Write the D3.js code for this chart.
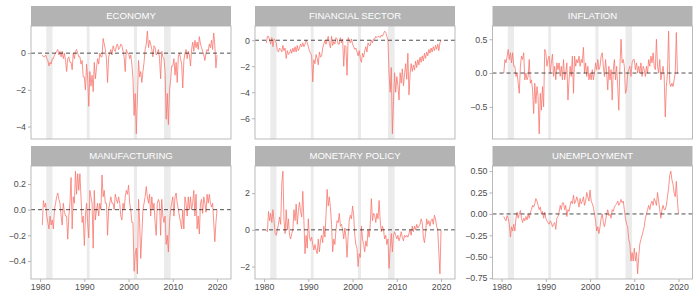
<!DOCTYPE html>
<html>
<head>
<meta charset="utf-8">
<script src="https://cdn.jsdelivr.net/npm/d3@7"></script>
<style>
  body { margin: 0; background: #fff; }
  svg { font-family: "Liberation Sans", Arial, sans-serif; }
</style>
</head>
<body>
<svg id="chart" width="700" height="300"></svg>
<script>
// facet titles, in wrap order
const titles = ["ECONOMY", "FINANCIAL SECTOR", "INFLATION", "MANUFACTURING", "MONETARY POLICY", "UNEMPLOYMENT"];

// quarterly readings, first one at 1980.5, last one at 2020.0
const economy = [
  -0.1, -0.2,
  -0.2, -0.1, -0.3, -0.4,   -0.7, -0.5, -0.6, -0.3,   -0.3, -0.1, 0.0, 0.1,   0.2, -0.1, 0.1, -0.2,
  0.1, -0.3, 0.0, -0.4,     -1.0, -0.3, -0.2, -0.5,   -0.5, -0.9, 0.0, -0.3,  0.1, 0.2, 0.0, -0.2,
  -0.2, -0.6, -0.4, -1.3,   -1.3, -2.0, -0.6, -1.3,   -2.9, -1.0, -1.8, -1.2, -2.1, -0.5, -1.4, -0.8,
  -0.3, -0.6, 0.0, -0.2,    -0.2, 0.8, 0.5, 0.2,      -0.3, -1.6, -0.2, 0.0,  0.2, -0.1, 0.4, 0.2,
  0.1, 0.4, 0.5, 0.2,       0.3, 0.5, 0.4, 0.1,       -0.2, -1.0, 0.2, 0.0,   0.0, -0.3, -0.1, -0.6,
  -1.4, -3.4, -2.2, -4.4,   -2.5, -0.4, -1.3, -1.0,   -1.6, -1.0, -0.5, 0.2,  0.5, 1.2, 0.3, 0.7,
  0.5, 0.2, -0.2, 0.4,      0.3, -0.1, 0.0, 0.2,      -0.3, -1.4, 0.1, -0.2,  -0.3, -1.0, -3.6, -2.2,
  -3.9, -2.0, -1.5, -0.7,   -0.7, -0.3, -1.2, -0.5,   -1.6, -0.2, 0.0, -0.3,  -0.6, -1.9, -0.4, 0.0,
  0.2, -0.3, 0.1, -0.1,     -0.7, 0.2, 0.6, 0.1,      0.7, 0.3, 0.6, 0.2,     0.9, 0.5, 0.3, 0.1,
  -0.1, -0.4, 0.0, 0.2,     0.1, 0.5, 0.3, 0.7,       0.2, 1.1, 0.4, -0.8,
  -0.1
];
const financial = [
  -0.2, 0.3,
  0.3, 0.0, -0.3, 0.2,      -0.5, 0.1, 0.0, -0.2,     -0.8, -0.9, -0.6, -0.7, -0.9, -0.4, -0.8, -0.6,
  -1.4, -0.8, -1.1, -1.0,   -0.7, -1.0, -0.6, -0.9,   -0.5, -0.9, -0.4, -0.8, -0.6, -0.3, -0.5, -0.2,
  -0.5, -0.3, 0.0, -0.2,    -0.5, -0.8, -1.0, -1.2,   -3.2, -1.5, -1.8, -1.1, -1.4, -1.9, -0.9, -1.3,
  -1.2, -0.6, -0.3, 0.0,    -0.3, 0.0, 0.3, -0.2,     -0.6, 0.3, -0.4, -0.1,  -0.3, 0.2, 0.1, -0.3,
  -0.3, 0.2, -0.2, 0.1,     -2.0, -0.4, -0.5, -2.7,   0.2, 0.0, -0.2, 0.1,    -0.3, -0.5, -0.7, -0.6,
  -0.9, -1.2, -0.8, -1.4,   -1.7, -1.0, -1.3, -0.8,   -0.5, -0.9, -0.2, -0.4, -0.4, 0.0, -0.2, 0.1,
  0.1, 0.3, 0.2, 0.3,       0.3, 0.2, 0.4, 0.3,       0.5, 0.7, 0.6, 0.3,     0.0, -2.6, -4.0, -2.1,
  -7.2, -4.7, -2.5, -4.0,   -2.8, -3.5, -4.6, -2.5,   -3.3, -2.2, -3.5, -2.6, -1.8, -3.0, -1.0, -4.2,
  -2.6, -1.8, -2.4, -1.9,   -2.3, -1.6, -2.1, -1.5,   -1.9, -1.3, -1.7, -1.2, -1.6, -1.0, -1.4, -0.9,
  -1.2, -0.7, -1.0, -0.6,   -0.9, -0.5, -0.8, -0.4,   -0.7, -0.3, -0.8, -0.2,
  0.0
];
const inflation = [
  0.0, 0.2,
  0.15, 0.25, 0.35, 0.2,    0.3, 0.15, 0.3, 0.1,      0.1, -0.05, 0.0, -0.15, -0.3, 0.1, 0.25, 0.2,
  0.3, -0.1, 0.0, -0.1,     -0.05, 0.2, -0.15, -0.1,  -0.25, -0.6, -0.15, -0.45, -0.2, -0.35, -0.9, -0.3,
  -0.55, -0.2, -0.5, 0.35,  0.3, 0.1, 0.2, 0.25,      0.0, 0.15, 0.28, -0.05, 0.1, -0.1, 0.15, 0.05,
  0.15, -0.05, 0.1, -0.1,   0.2, -0.1, 0.0, 0.15,     -0.4, -0.1, 0.1, -0.05, 0.25, -0.3, 0.25, 0.1,
  0.2, 0.15, 0.25, 0.1,     0.2, 0.15, 0.38, 0.0,     0.15, -0.05, 0.1, -0.1, 0.0, -0.1, 0.05, -0.1,
  0.0, 0.15, 0.05, 0.2,     0.05, 0.1, 0.25, 0.3,     0.1, -0.05, 0.2, 0.0,   -0.25, 0.1, -0.1, 0.05,
  -0.4, 0.05, 0.2, -0.1,    0.1, -0.2, -0.55, 0.1,    0.5, 0.15, 0.2, 0.1,    -0.3, -0.25, 0.0, 0.05,
  0.1, -0.05, 0.15, 0.2,    0.2, 0.05, 0.15, 0.0,     0.1, 0.0, 0.15, -0.05,  0.1, 0.05, -0.05, 0.1,
  0.0, 0.2, 0.1, 0.25,      0.15, 0.3, 0.1, 0.05,     0.5, 0.1, 0.0, 0.2,     -0.1, 0.0, 0.1, -0.05,
  -0.65, -0.2, 0.0, 0.62,   -0.15, -0.2, -0.15, -0.2, -0.1, 0.0, 0.6, 0.0,
  0.0
];
const manufacturing = [
  -0.12, 0.07,
  0.02, 0.05, -0.05, -0.1,  -0.15, -0.05, -0.12, -0.08, -0.15, 0.0, 0.05, 0.1, 0.13, 0.08, 0.05, -0.05,
  -0.12, 0.05, -0.02, -0.05, -0.05, -0.23, -0.05, 0.05, 0.25, -0.15, 0.1, 0.05, 0.3, 0.12, 0.28, 0.15,
  0.28, 0.1, -0.1, -0.05,   -0.28, -0.05, 0.05, -0.1, -0.22, 0.15, 0.1, 0.05, -0.3, 0.15, -0.08, 0.0,
  0.05, -0.05, 0.05, 0.0,   0.27, 0.1, 0.15, 0.05,    0.05, -0.2, 0.0, 0.05,  0.1, 0.05, 0.05, 0.0,
  0.12, 0.08, 0.05, 0.1,    0.05, -0.05, -0.08, 0.05, 0.0, 0.1, 0.15, 0.12,   0.19, 0.05, 0.0, -0.1,
  -0.1, -0.48, -0.35, -0.3, -0.5, 0.08, -0.1, -0.38,  -0.2, 0.0, 0.05, 0.1,   0.18, 0.1, 0.05, 0.12,
  -0.05, 0.1, 0.0, 0.05,    -0.1, -0.2, 0.05, 0.08,   0.05, -0.2, 0.08, -0.05, -0.1, -0.05, -0.27, -0.2,
  -0.33, -0.1, 0.0, 0.05,   0.1, -0.05, 0.1, 0.13,    0.05, 0.0, -0.05, -0.1, -0.15, 0.0, -0.15, 0.1,
  0.05, -0.05, 0.1, 0.0,    0.1, 0.0, 0.05, 0.15,     -0.05, 0.12, -0.15, -0.05, -0.19, 0.05, 0.08, -0.03,
  0.1, 0.05, -0.02, 0.12,   0.05, 0.12, 0.05, 0.02,   0.05, -0.1, -0.25, -0.1,
  0.0
];
const monetary = [
  0.0, -0.1,
  1.0, 0.5, 0.9, 0.4,       1.1, 0.5, -0.2, -0.3,     0.0, 0.3, 0.7, 0.3,     2.5, 3.2, 0.5, -0.2,
  1.1, 0.0, 0.6, -0.3,      -0.5, -0.2, 0.0, 1.1,     0.5, 1.4, 0.3, 1.0,     1.5, 1.0, 0.7, 2.1,
  0.5, -1.3, -0.3, -1.0,    0.6, -0.4, -0.6, -0.4,    -0.8, -1.1, -0.8, -1.1, -1.3, -0.5, -1.2, -0.6,
  -0.3, -0.7, 0.2, -0.4,    0.8, 2.2, 1.3, 1.8,       1.2, 0.3, -1.2, -0.5,   -0.8, 0.0, 0.5, 0.4,
  0.9, 0.2, 0.3, 0.0,       -0.5, 0.1, -0.4, -1.5,    -0.3, 0.5, 0.8, 0.6,    1.3, 0.8, -0.3, -0.8,
  -1.0, -2.0, -1.3, -1.5,   0.2, -0.5, -0.8, -1.2,    -0.6, -0.9, 0.0, -0.4,  0.3, 1.7, 0.5, 0.9,
  0.8, 0.4, 0.9, 0.6,       1.6, 0.5, -0.1, 0.2,      0.0, -0.5, -0.3, -0.8,  -0.5, -2.1, -1.0, -0.2,
  -1.2, -0.3, -0.1, -0.3,   -0.5, -0.3, -0.6, -0.4,   -0.1, -0.4, -0.6, -0.3, -0.4, -0.3, -0.4, -0.2,
  0.0, -0.3, 0.2, -0.1,     0.2, 0.0, 0.3, 0.1,       0.2, 0.3, 0.6, 0.4,     -0.4, -0.7, -0.2, 0.6,
  0.3, 0.5, 0.2, 0.5,       0.6, 0.3, 0.8, 0.6,       0.2, 0.0, -1.2, -2.4,
  0.0
];
const unemployment = [
  -0.03, -0.06,
  -0.08, -0.02, -0.05, -0.12, -0.27, -0.15, -0.2, -0.12, -0.2, -0.05, 0.02, -0.05, 0.0, 0.04, -0.05, -0.1,
  -0.05, -0.08, -0.03, -0.07, 0.0, -0.05, 0.02, 0.05,  0.1, 0.08, 0.12, 0.18,   0.15, 0.1, 0.05, 0.08,
  0.0, 0.03, -0.05, 0.02,   -0.05, -0.08, -0.1, -0.12, -0.08, -0.1, -0.15, -0.12, -0.1, -0.18, -0.05, -0.03,
  0.02, 0.1, 0.05, 0.13,    0.13, 0.05, 0.1, -0.03,   0.05, 0.03, 0.1, 0.15,  0.12, 0.22, 0.12, 0.15,
  0.2, 0.15, 0.08, 0.18,    0.12, 0.15, 0.2, 0.1,     0.15, 0.25, 0.2, 0.15,  0.28, 0.15, 0.12, 0.08,
  0.0, -0.08, -0.2, -0.15,  -0.23, -0.15, -0.05, 0.0, -0.1, -0.15, -0.08, 0.0, 0.05, -0.02, 0.0, -0.05,
  0.05, 0.03, 0.08, 0.1,    0.12, 0.15, 0.1, 0.13,    0.17, 0.13, 0.15, 0.05, -0.05, -0.12, -0.15, -0.3,
  -0.35, -0.55, -0.45, -0.55, -0.4, -0.55, -0.45, -0.7, -0.5, -0.35, -0.3, -0.25, -0.2, -0.15, -0.05, 0.0,
  0.05, 0.1, 0.05, 0.12,    0.15, 0.1, 0.18, 0.15,    0.1, 0.25, 0.15, 0.05,  -0.05, 0.05, 0.1, 0.05,
  0.05, 0.1, 0.2, 0.3,      0.45, 0.5, 0.4, 0.35,     0.25, 0.2, 0.38, 0.15,
  0.0
];

const series = [economy, financial, inflation, manufacturing, monetary, unemployment];
const firstDate = 1980.5;
const stepYears = 0.25;

const yTicks = [
  [-4, -2, 0],
  [-6, -4, -2, 0],
  [-0.5, 0, 0.5],
  [-0.4, -0.2, 0, 0.2],
  [-2, 0, 2],
  [-0.75, -0.5, -0.25, 0, 0.25, 0.5]
];
const yDecimals = [0, 0, 1, 1, 0, 2];
const xTicks = [1980, 1990, 2000, 2010, 2020];
const xLimits = [1980, 2021.1];

// NBER recessions (start, end)
const recessions = [[1981.4, 1982.8], [1990.55, 1991.2], [2001.2, 2001.9], [2008.0, 2009.5]];

// layout
const colLeft = [31, 255, 492.5];
const rowTop = [6, 146];
const panelW = 200, stripH = 20, plotH = 113;
const lineColor = "#F8766D";
const grey70 = "#b3b3b3";

const svg = d3.select("#chart");

const xSpan = xLimits[1] - xLimits[0];
const x = d3.scaleLinear()
  .domain([xLimits[0] - 0.05 * xSpan, xLimits[1] + 0.05 * xSpan])
  .range([0, panelW]);

titles.forEach((title, i) => {
  const col = i % 3, row = Math.floor(i / 3);
  const values = series[i];
  const data = values.map((v, k) => ({ t: firstDate + k * stepYears, v }));

  const [lo, hi] = d3.extent(values);
  const pad = (hi - lo) * 0.05;
  const y = d3.scaleLinear().domain([lo - pad, hi + pad]).range([plotH, 0]);

  const g = svg.append("g").attr("transform", `translate(${colLeft[col]},${rowTop[row]})`);

  // strip
  g.append("rect")
    .attr("width", panelW).attr("height", stripH)
    .attr("fill", grey70);
  g.append("text")
    .attr("x", panelW / 2).attr("y", stripH / 2)
    .attr("dy", "0.36em")
    .attr("text-anchor", "middle")
    .attr("fill", "#fff")
    .style("font-size", "9.6px")
    .text(title);

  const p = g.append("g").attr("transform", `translate(0,${stripH})`);

  p.selectAll(".rec")
    .data(recessions)
    .enter().append("rect")
    .attr("class", "rec")
    .attr("x", d => x(d[0]))
    .attr("width", d => x(d[1]) - x(d[0]))
    .attr("y", 0).attr("height", plotH)
    .attr("fill", "#ebebeb");

  const line = d3.line().x(d => x(d.t)).y(d => y(d.v));
  p.append("path")
    .datum(data)
    .attr("d", line)
    .attr("fill", "none")
    .attr("stroke", lineColor)
    .attr("stroke-width", 0.8)
    .attr("stroke-linejoin", "round");

  p.append("line")
    .attr("x1", 0).attr("x2", panelW)
    .attr("y1", y(0)).attr("y2", y(0))
    .attr("stroke", "#222")
    .attr("stroke-width", 0.8)
    .attr("stroke-dasharray", "4,3");

  p.append("rect")
    .attr("width", panelW).attr("height", plotH)
    .attr("fill", "none")
    .attr("stroke", grey70)
    .attr("stroke-width", 0.9);

  const fmt = d3.format(`.${yDecimals[i]}f`);
  const yAxis = p.append("g")
    .call(d3.axisLeft(y).tickValues(yTicks[i]).tickSize(3).tickPadding(2).tickFormat(fmt));
  yAxis.select(".domain").remove();
  yAxis.selectAll(".tick line").attr("stroke", grey70);
  yAxis.selectAll("text")
    .attr("fill", "#4d4d4d")
    .style("font-size", "8.8px")
    .style("font-family", "'Liberation Sans', Arial, sans-serif");

  if (row === 1) {
    const xAxis = p.append("g")
      .attr("transform", `translate(0,${plotH})`)
      .call(d3.axisBottom(x).tickValues(xTicks).tickSize(3).tickPadding(2).tickFormat(d3.format("d")));
    xAxis.select(".domain").remove();
    xAxis.selectAll(".tick line").attr("stroke", grey70);
    xAxis.selectAll("text")
      .attr("fill", "#4d4d4d")
      .style("font-size", "8.8px")
      .style("font-family", "'Liberation Sans', Arial, sans-serif");
  }
});
</script>
</body>
</html>
